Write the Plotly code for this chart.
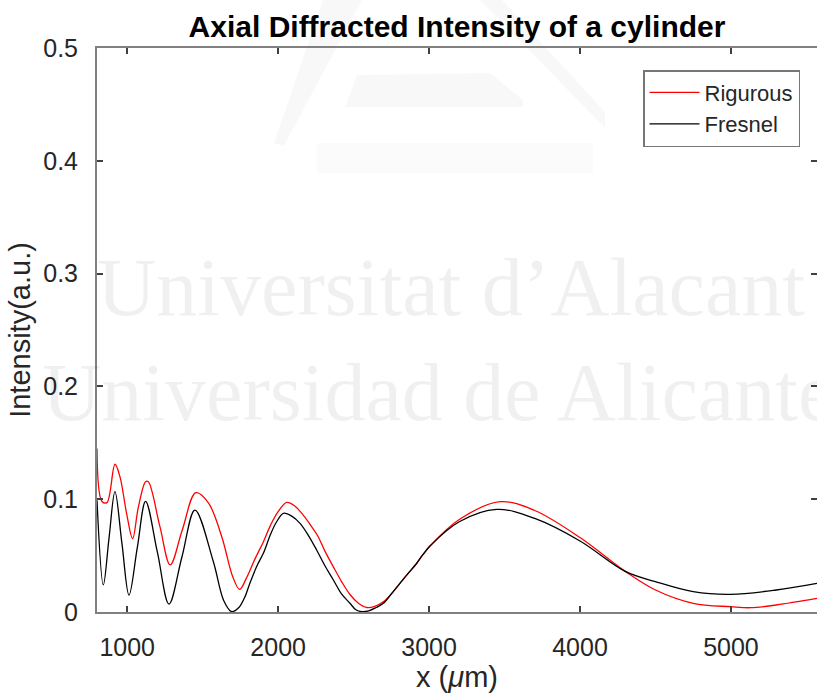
import plotly.graph_objects as go

# ---- data ----
fresnel_x = [800, 842, 880, 919, 965, 1012, 1067, 1122, 1200, 1277,
             1363, 1449, 1570, 1640, 1692, 1740, 1778, 1814, 1860, 1902,
             1950, 1990, 2035, 2090, 2145, 2200, 2255, 2310, 2366, 2420,
             2476, 2515, 2554, 2600, 2650, 2697, 2750, 2807, 2860, 2917,
             2960, 3006, 3200, 3448, 3700, 4000, 4300, 4500, 4750, 5000,
             5300, 5570]
fresnel_y = [0.099, 0.024, 0.066, 0.1067, 0.061, 0.015, 0.057, 0.098, 0.053, 0.007,
             0.049, 0.0904, 0.045, 0.010, 0.0003, 0.004, 0.0128, 0.026, 0.041, 0.052,
             0.069, 0.080, 0.0875, 0.085, 0.0786, 0.068, 0.055, 0.041, 0.0284, 0.016,
             0.0077, 0.002, 0.0003, 0.001, 0.004, 0.0077, 0.016, 0.0254, 0.034, 0.043,
             0.051, 0.0585, 0.080, 0.091, 0.083, 0.063, 0.036, 0.0269, 0.018, 0.0157,
             0.0195, 0.0254]

rigorous_x = [800, 833, 866, 919, 952, 996, 1036, 1074, 1122, 1140,
              1217, 1285, 1365, 1455, 1537, 1626, 1700, 1745, 1790, 1850,
              1902, 1950, 2000, 2057, 2110, 2160, 2210, 2260, 2310, 2366,
              2420, 2476, 2530, 2587, 2640, 2697, 2750, 2807, 2860, 2917,
              2960, 3006, 3200, 3470, 3700, 4000, 4300, 4500, 4750, 5000,
              5131, 5300, 5570]
rigorous_y = [0.145, 0.098, 0.097, 0.131, 0.12, 0.0875, 0.065, 0.093, 0.1155, 0.1155,
              0.0757, 0.0417, 0.0727, 0.1058, 0.097, 0.067, 0.031, 0.020, 0.030, 0.048,
              0.062, 0.077, 0.089, 0.0972, 0.094, 0.087, 0.078, 0.068, 0.054, 0.040,
              0.027, 0.0155, 0.008, 0.004, 0.005, 0.009, 0.016, 0.0254, 0.034, 0.043,
              0.051, 0.0585, 0.082, 0.0978, 0.090, 0.066, 0.036, 0.0195, 0.0077, 0.0047,
              0.0038, 0.0062, 0.012]

x_ticks = [1000, 2000, 3000, 4000, 5000]
y_ticks = [0, 0.1, 0.2, 0.3, 0.4, 0.5]
y_tick_labels = ["0", "0.1", "0.2", "0.3", "0.4", "0.5"]

# ---- layout geometry ----
W, H = 817, 700
ML, MR, MT, MB = 97, 0, 48, 88
PW, PH = W - ML - MR, H - MT - MB
FONT = "Liberation Sans, Arial, Helvetica, sans-serif"
TXT = "#262626"
AX = "#808080"


def px(xp, yp):
    return (xp - ML) / PW, (H - MB - yp) / PH


fig = go.Figure()
fig.add_trace(go.Scatter(x=rigorous_x, y=rigorous_y, mode="lines", name="Rigurous",
                         line=dict(color="#ff0000", width=1.3, shape="spline", smoothing=1.0)))
fig.add_trace(go.Scatter(x=fresnel_x, y=fresnel_y, mode="lines", name="Fresnel",
                         line=dict(color="#000000", width=1.3, shape="spline", smoothing=1.0)))
# invisible trace so the right-side tick axis is drawn
fig.add_trace(go.Scatter(x=[None], y=[None], yaxis="y2", showlegend=False, hoverinfo="skip"))

# ---- faint watermark logo ----
logo_polys = [
    [(323, 0), (362, 0), (284, 146), (274, 143)],
    [(480, 0), (502, 0), (605, 112), (605, 128)],
    [(357, 75), (490, 73), (523, 100), (523, 107), (345, 107)],
]
shapes = []
for poly in logo_polys:
    pts = [px(a, b) for a, b in poly]
    path = "M " + " L ".join(f"{u:.4f},{v:.4f}" for u, v in pts) + " Z"
    shapes.append(dict(type="path", xref="paper", yref="paper", path=path,
                       fillcolor="rgba(0,0,0,0.028)", line=dict(width=0), layer="below"))
lb = [px(317, 143), px(593, 173)]
shapes.append(dict(type="rect", xref="paper", yref="paper", x0=lb[0][0], y0=lb[0][1],
                   x1=lb[1][0], y1=lb[1][1], fillcolor="rgba(0,0,0,0.015)",
                   line=dict(width=0), layer="below"))

wm1 = px(95, 287)
wm2 = px(40, 392)
annotations = [
    dict(text="Universitat d’Alacant", xref="paper", yref="paper", x=wm1[0], y=wm1[1],
         xanchor="left", yanchor="middle", showarrow=False,
         font=dict(family="Liberation Serif, Times New Roman, serif", size=82,
                   color="rgba(0,0,0,0.06)")),
    dict(text="Universidad de Alicante", xref="paper", yref="paper", x=wm2[0], y=wm2[1],
         xanchor="left", yanchor="middle", showarrow=False,
         font=dict(family="Liberation Serif, Times New Roman, serif", size=82,
                   color="rgba(0,0,0,0.06)")),
]

leg = px(800, 70)

fig.update_layout(
    width=W, height=H,
    margin=dict(l=ML, r=MR, t=MT, b=MB),
    paper_bgcolor="white", plot_bgcolor="white",
    font=dict(family=FONT, color=TXT),
    title=dict(text="<b>Axial Diffracted Intensity of a cylinder</b>",
               x=0.5, xref="paper", xanchor="center",
               y=1 - 26 / H, yref="container", yanchor="middle",
               font=dict(family=FONT, size=30, color="#000000")),
    xaxis=dict(range=[800, 5570], tickvals=x_ticks, ticks="inside", ticklen=6,
               tickwidth=1.5, tickcolor="#404040", showline=True, linecolor=AX,
               linewidth=2, mirror="ticks", showgrid=False, zeroline=False,
               tickfont=dict(size=25, color=TXT), ticklabelstandoff=12,
               title=dict(text="x (<i>μ</i>m)", font=dict(size=29, color=TXT), standoff=6)),
    yaxis=dict(range=[0, 0.5], tickvals=y_ticks, ticktext=y_tick_labels, ticks="inside",
               ticklen=6, tickwidth=1.5, tickcolor="#404040", showline=True,
               linecolor=AX, linewidth=2, showgrid=False, zeroline=False,
               tickfont=dict(size=25, color=TXT), ticklabelstandoff=12,
               title=dict(text="Intensity(a.u.)", font=dict(size=29, color=TXT), standoff=4)),
    yaxis2=dict(range=[0, 0.5], tickvals=y_ticks, overlaying="y", side="right",
                ticks="inside", ticklen=6, tickwidth=1.5, tickcolor="#404040",
                showticklabels=False, showline=False, showgrid=False, zeroline=False),
    legend=dict(x=leg[0], y=leg[1], xanchor="right", yanchor="top",
                bgcolor="white", bordercolor="#777777", borderwidth=1.5,
                font=dict(family=FONT, size=22, color=TXT), itemwidth=50,
                tracegroupgap=0),
    shapes=shapes,
    annotations=annotations,
)

fig.write_html("out.html")
